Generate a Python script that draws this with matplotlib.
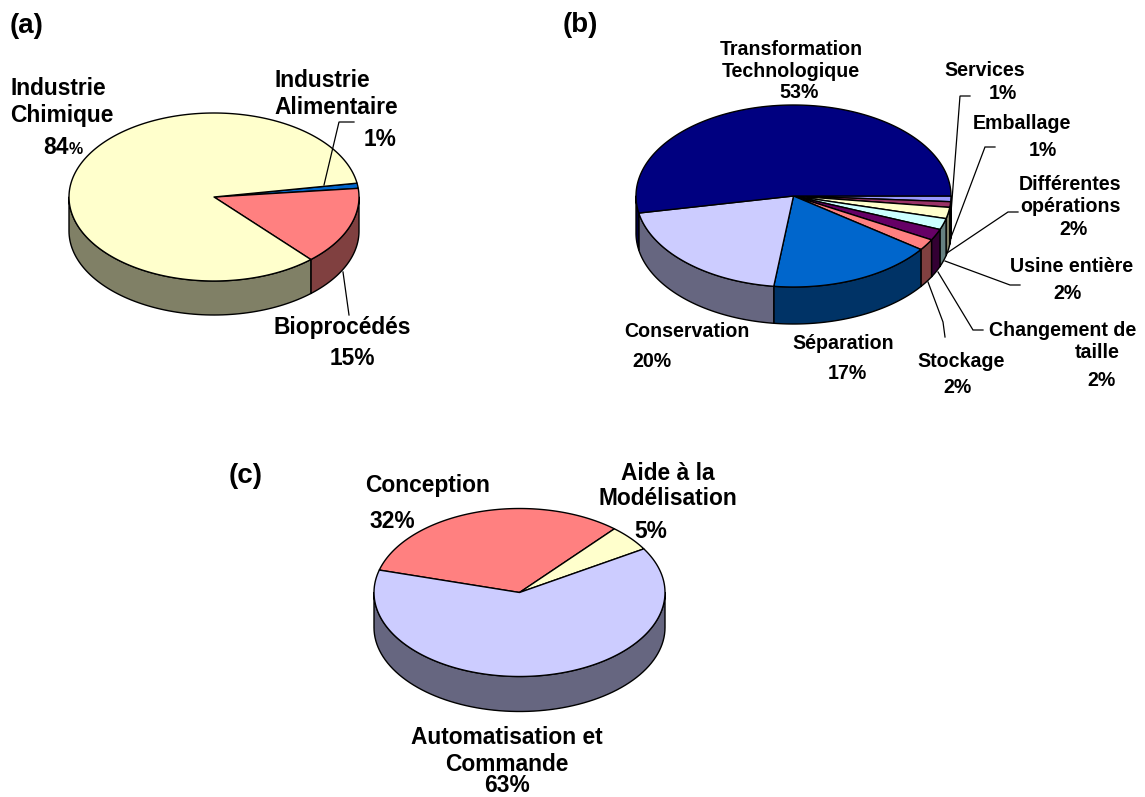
import numpy as np
import matplotlib
matplotlib.use("Agg")
import matplotlib.pyplot as plt
from matplotlib.patches import Polygon

plt.rcParams['font.family'] = ['Liberation Sans', 'DejaVu Sans']

# (a) domains
labels_a = ["Industrie\nAlimentaire", "Bioprocédés", "Industrie\nChimique"]
values_a = [1, 15, 84]
colors_a = ["#0066CC", "#FF8080", "#FFFFCC"]

# (b) unit operations
labels_b = ["Services", "Emballage", "Différentes\nopérations", "Usine entière",
            "Changement de\ntaille", "Stockage", "Séparation", "Conservation",
            "Transformation\nTechnologique"]
values_b = [1, 1, 2, 2, 2, 2, 17, 20, 53]
colors_b = ["#9999FF", "#993366", "#FFFFCC", "#CCFFFF", "#660066",
            "#FF8080", "#0066CC", "#CCCCFF", "#000080"]

# (c) objectives
labels_c = ["Conception", "Aide à la\nModélisation", "Automatisation et\nCommande"]
values_c = [32, 5, 63]
colors_c = ["#FF8080", "#FFFFCC", "#CCCCFF"]

fig = plt.figure(figsize=(11.45, 7.97), dpi=100)
ax = fig.add_axes([0, 0, 1, 1])
ax.set_xlim(0, 1145)
ax.set_ylim(797, 0)
ax.axis('off')


def darker(color):
    r, g, b = matplotlib.colors.to_rgb(color)
    return (r * 0.5, g * 0.5, b * 0.5)


def draw_pie(values, colors, cx, cy, rx, ry, depth, start):
    """Tilted 3D pie, slices run clockwise from start (degrees)."""
    angles = start - np.cumsum([0] + list(values)) * 3.6
    # side walls first, only the front half of the rim can be seen
    for i, color in enumerate(colors):
        hi, lo = angles[i], angles[i + 1]
        for k in range(-1, 2):
            # front half of the ellipse is -180..0, repeated every turn
            a = min(hi, 360 * k)
            b = max(lo, 360 * k - 180)
            if a <= b:
                continue
            t = np.radians(np.linspace(a, b, 80))
            x = cx + rx * np.cos(t)
            y = cy - ry * np.sin(t)
            pts = np.r_[np.c_[x, y], np.c_[x, y + depth][::-1]]
            ax.add_patch(Polygon(pts, closed=True, fc=darker(color), ec='black',
                                 lw=1.0, joinstyle='round'))
    # top face
    for i, color in enumerate(colors):
        t = np.radians(np.linspace(angles[i], angles[i + 1], 200))
        pts = np.r_[[[cx, cy]], np.c_[cx + rx * np.cos(t), cy - ry * np.sin(t)]]
        ax.add_patch(Polygon(pts, closed=True, fc=color, ec='black', lw=1.0,
                             joinstyle='round'))


def label(x, y, s, size=14.1, ha='center', linespacing=1.2):
    ax.text(x, y, s, fontsize=size, fontweight='bold', ha=ha, va='center',
            color='black', linespacing=linespacing)


def leader(xs, ys):
    ax.plot(xs, ys, color='black', lw=0.9, solid_joinstyle='miter', zorder=3)


def pct(v):
    return f"{v}%"


draw_pie(values_a, colors_a, 214, 197, 145, 84, 34, 9.5)
draw_pie(values_b, colors_b, 793.5, 196, 157.5, 91, 37, 0)
draw_pie(values_c, colors_c, 519.5, 592.5, 145.5, 84, 35, 164.5)

# panel letters
label(10, 26, "(a)", size=20, ha='left')
label(563, 25, "(b)", size=20, ha='left')
label(229, 476, "(c)", size=20, ha='left')

# (a) labels
A = 16.4
label(10, 102, labels_a[2], size=A, ha='left', linespacing=1.22)
label(43, 147, str(values_a[2]), size=A, ha='left')
label(69, 149, "%", size=11.5, ha='left')
label(274, 94, labels_a[0], size=A, ha='left', linespacing=1.17)
label(380, 139, pct(values_a[0]), size=A)
label(342, 327, labels_a[1], size=A)
label(352, 358, pct(values_a[1]), size=A)
leader([354, 339, 324], [122, 122, 185])
leader([349, 343], [315, 272])

# (b) labels
label(791, 60, labels_b[8])
label(799, 92, pct(values_b[8]))
label(985, 70, labels_b[0])
label(1003, 93, pct(values_b[0]))
label(1022, 123, labels_b[1])
label(1043, 150, pct(values_b[1]))
label(1070, 195, labels_b[2])
label(1074, 229, pct(values_b[2]))
label(1072, 266, labels_b[3])
label(1067, 293, pct(values_b[3]))
first, second = labels_b[4].split("\n")
label(1063, 330, first)
label(1097, 352, second)
label(1101, 380, pct(values_b[4]))
label(961, 361, labels_b[5])
label(958, 387, pct(values_b[5]))
label(843, 343, labels_b[6])
label(847, 373, pct(values_b[6]))
label(687, 331, labels_b[7])
label(652, 361, pct(values_b[7]))
leader([970, 960, 951], [96, 96, 213])
leader([995, 985, 950], [147, 147, 240])
leader([1018, 1008, 947], [212, 212, 253])
leader([1020, 1010, 945], [285, 285, 261])
leader([983, 973, 938], [330, 330, 272])
leader([945, 943, 928], [337, 322, 282])

# (c) labels
label(428, 485, labels_c[0], size=A)
label(392, 521, pct(values_c[0]), size=A)
label(668, 486, labels_c[1], size=A, linespacing=1.12)
label(651, 531, pct(values_c[1]), size=A)
label(507, 751, labels_c[2], size=A, linespacing=1.17)
label(507, 786, pct(values_c[2]), size=A)

fig.savefig("out.png", dpi=100)
